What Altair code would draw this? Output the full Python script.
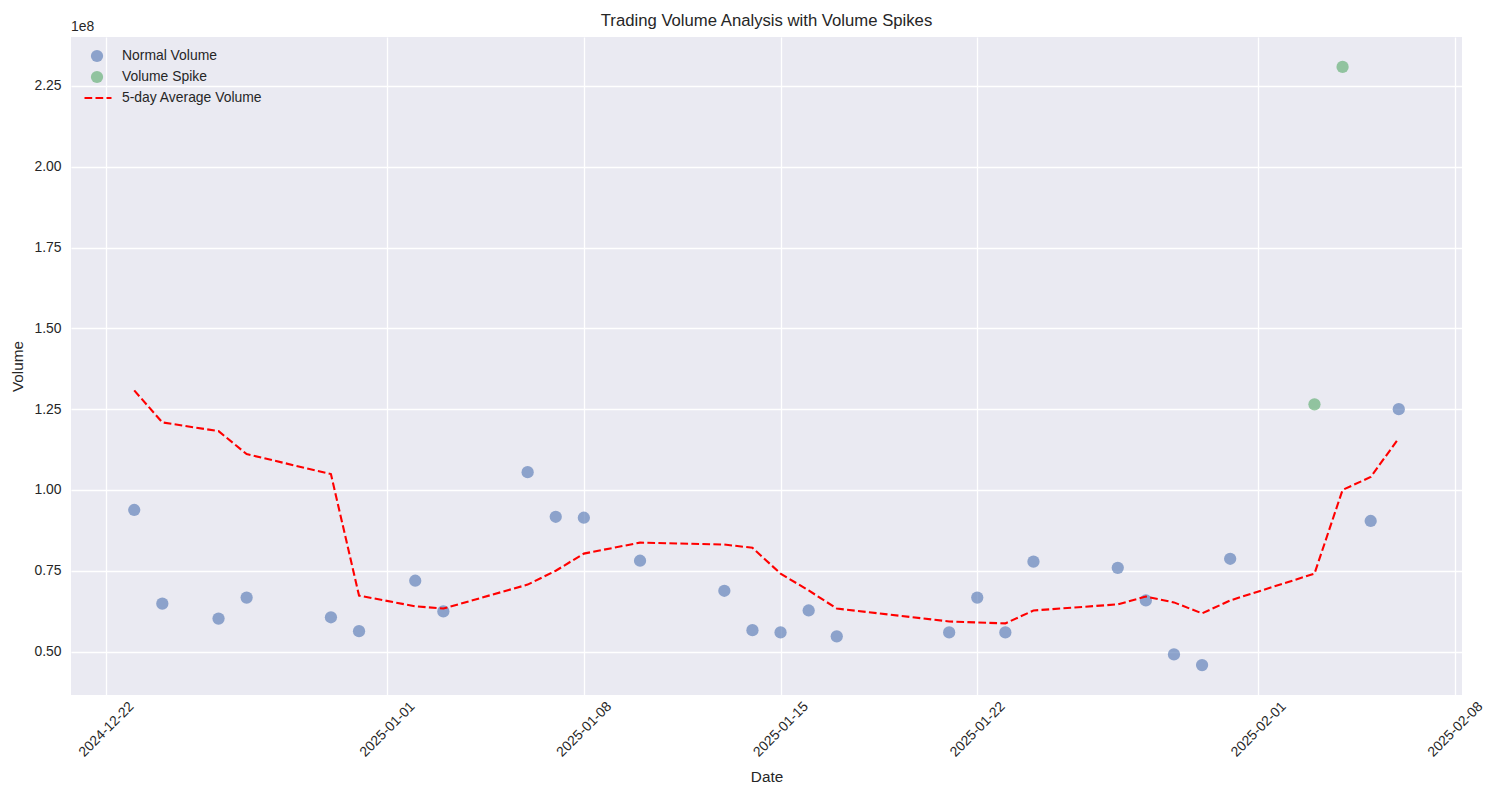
import altair as alt
import pandas as pd

# ---- data (volume in units of 1e8) ----
dates = ["2024-12-23", "2024-12-24", "2024-12-26", "2024-12-27", "2024-12-30", "2024-12-31",
         "2025-01-02", "2025-01-03", "2025-01-06", "2025-01-07", "2025-01-08", "2025-01-10",
         "2025-01-13", "2025-01-14", "2025-01-15", "2025-01-16", "2025-01-17", "2025-01-21",
         "2025-01-22", "2025-01-23", "2025-01-24", "2025-01-27", "2025-01-28", "2025-01-29",
         "2025-01-30", "2025-01-31", "2025-02-03", "2025-02-04", "2025-02-05", "2025-02-06"]
volume = [0.938, 0.648, 0.602, 0.667, 0.606, 0.563,
          0.719, 0.624, 1.055, 0.917, 0.914, 0.781,
          0.688, 0.566, 0.559, 0.627, 0.547, 0.559,
          0.667, 0.559, 0.778, 0.759, 0.658, 0.491,
          0.458, 0.787, 1.265, 2.309, 0.904, 1.250]
avg5 = [1.308, 1.209, 1.182, 1.111, 1.049, 0.673,
        0.640, 0.633, 0.707, 0.750, 0.803, 0.837,
        0.831, 0.821, 0.741, 0.689, 0.633, 0.593,
        0.590, 0.587, 0.627, 0.646, 0.670, 0.652,
        0.618, 0.658, 0.741, 1.000, 1.040, 1.160]
spike_dates = ["2025-02-03", "2025-02-04"]
x_ticks = ["2024-12-22", "2025-01-01", "2025-01-08", "2025-01-15", "2025-01-22", "2025-02-01", "2025-02-08"]
y_ticks = [0.50, 0.75, 1.00, 1.25, 1.50, 1.75, 2.00, 2.25]
TITLE = "Trading Volume Analysis with Volume Spikes"

SCALE = 1e8
df = pd.DataFrame({
    "date": dates,
    "volume": [v * SCALE for v in volume],
    "avg": [v * SCALE for v in avg5],
    "type": ["Volume Spike" if d in spike_dates else "Normal Volume" for d in dates],
    "series": ["5-day Average Volume"] * len(dates),
})

# matplotlib-style 5% margins
def ms(s):
    return int(pd.Timestamp(s, tz="UTC").value // 10**6)

t0, t1 = ms(dates[0]), ms(dates[-1])
xpad = (t1 - t0) * 0.05
x_domain = [t0 - xpad, t1 + xpad]
allv = volume + avg5
ymin, ymax = min(allv), max(allv)
ypad = (ymax - ymin) * 0.05
y_domain = [(ymin - ypad) * SCALE, (ymax + ypad) * SCALE]

FONT = "Liberation Sans"
TXT = "#262626"
W, H = 1391, 658

axis_style = dict(grid=True, gridColor="white", gridWidth=1.3, domain=False, ticks=False,
                  labelFont=FONT, labelFontSize=13.9, labelColor=TXT,
                  titleFont=FONT, titleFontSize=15.3, titleColor=TXT, titleFontWeight="normal")

x_enc = alt.X("date:T", title="Date",
              scale=alt.Scale(type="utc", domain=x_domain, nice=False),
              axis=alt.Axis(values=[ms(t) for t in x_ticks],
                            labelExpr="utcFormat(datum.value, '%Y-%m-%d')",
                            labelAngle=315, labelAlign="center", labelBaseline="middle",
                            labelPadding=34, titlePadding=10, **axis_style))
y_scale = alt.Scale(domain=y_domain, nice=False, zero=False)
y_axis = alt.Axis(values=[v * SCALE for v in y_ticks],
                  labelExpr="format(datum.value / 1e8, '.2f')",
                  labelPadding=10, titlePadding=8, **axis_style)

points = alt.Chart(df).mark_circle(size=150, opacity=0.6).encode(
    x=x_enc,
    y=alt.Y("volume:Q", title="Volume", scale=y_scale, axis=y_axis),
    color=alt.Color("type:N",
                    scale=alt.Scale(domain=["Normal Volume", "Volume Spike"],
                                    range=["#4C72B0", "#55A868"]),
                    legend=alt.Legend(title=None, orient="none", legendX=19, legendY=12,
                                      symbolType="circle", symbolSize=150, symbolOpacity=0.6,
                                      labelFontSize=13.9, labelFont=FONT, labelColor=TXT,
                                      labelOffset=18, rowPadding=7, padding=0)),
)

line = alt.Chart(df).mark_line(color="red", strokeWidth=2.1).encode(
    x="date:T",
    y="avg:Q",
    strokeDash=alt.StrokeDash("series:N",
                              scale=alt.Scale(domain=["5-day Average Volume"], range=[[7.7, 3.3]]),
                              legend=alt.Legend(title=None, orient="none", legendX=12, legendY=46,
                                                symbolType="stroke", symbolSize=729,
                                                symbolStrokeColor="red", symbolStrokeWidth=2.1,
                                                labelFontSize=13.9, labelFont=FONT, labelColor=TXT,
                                                labelOffset=9, padding=0)),
)

txt = pd.DataFrame({"t": ["1e8"]})
exp_text = alt.Chart(txt).mark_text(
    align="left", baseline="alphabetic", fontSize=13.9, font=FONT, color=TXT
).encode(x=alt.value(0), y=alt.value(-6), text="t:N")

title_text = alt.Chart(pd.DataFrame({"t": [TITLE]})).mark_text(
    align="center", baseline="middle", fontSize=16.7, font=FONT, color=TXT
).encode(x=alt.value(W / 2), y=alt.value(-16), text="t:N")

chart = alt.layer(points, line, exp_text, title_text).properties(
    width=W, height=H,
    padding={"left": 2, "top": 5, "right": 5, "bottom": 5},
    background="white",
).configure_view(fill="#EAEAF2", stroke=None)

chart.save("out.html", embed_options={"renderer": "svg", "actions": False})
